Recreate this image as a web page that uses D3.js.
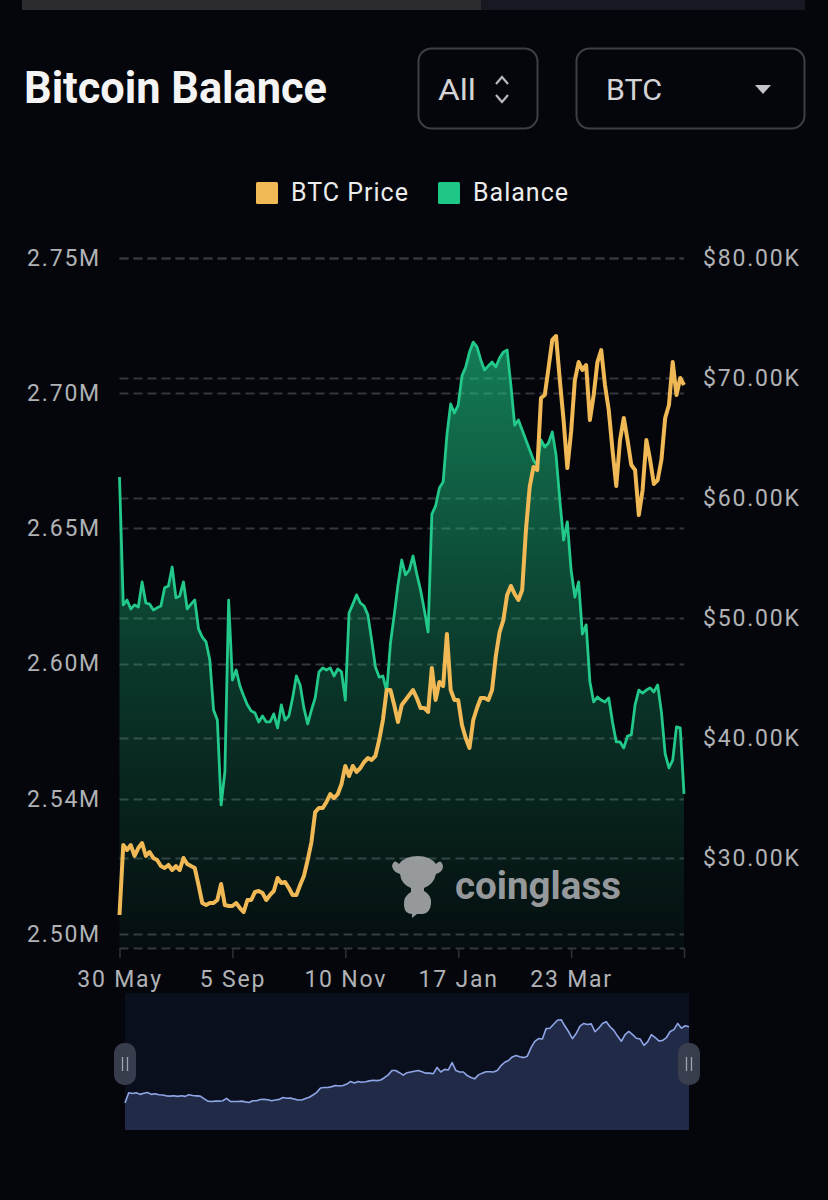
<!DOCTYPE html>
<html>
<head>
<meta charset="utf-8">
<script src="https://cdn.jsdelivr.net/npm/d3@7/dist/d3.min.js"></script>
<style>
  html, body { margin: 0; padding: 0; background: #04060b; }
  svg { display: block; }
  text { font-family: Roboto, "Noto Sans", sans-serif; }
</style>
</head>
<body>
<svg id="chart" width="828" height="1200"></svg>
<script>
// Exchange bitcoin balance (million BTC), one value per category step
const balance = [
  2.6690, 2.6217, 2.6235, 2.6202, 2.6217, 2.6209, 2.6302, 2.6224, 2.6220, 2.6198,
  2.6206, 2.6213, 2.6280, 2.6287, 2.6357, 2.6243, 2.6250, 2.6302, 2.6202, 2.6220,
  2.6235, 2.6128, 2.6098, 2.6080, 2.6013, 2.5828, 2.5791, 2.5477, 2.5599, 2.6235,
  2.5939, 2.5976, 2.5917, 2.5880, 2.5847, 2.5825, 2.5817, 2.5784, 2.5806, 2.5784,
  2.5784, 2.5814, 2.5762, 2.5847, 2.5791, 2.5806, 2.5873, 2.5954, 2.5921, 2.5836,
  2.5777, 2.5828, 2.5873, 2.5969, 2.5984, 2.5976, 2.5984, 2.5954, 2.5980, 2.5969,
  2.5865, 2.6187, 2.6220, 2.6254, 2.6224, 2.6213, 2.6180, 2.6087, 2.5987, 2.5950,
  2.5954, 2.5895, 2.6076, 2.6180, 2.6291, 2.6383, 2.6328, 2.6346, 2.6398, 2.6331,
  2.6272, 2.6198, 2.6117, 2.6553, 2.6583, 2.6649, 2.6672, 2.6845, 2.6960, 2.6927,
  2.6956, 2.7064, 2.7097, 2.7152, 2.7189, 2.7171, 2.7123, 2.7086, 2.7101, 2.7115,
  2.7097, 2.7130, 2.7152, 2.7160, 2.7030, 2.6882, 2.6901, 2.6864, 2.6827, 2.6790,
  2.6753, 2.6731, 2.6827, 2.6801, 2.6816, 2.6857, 2.6771, 2.6605, 2.6457, 2.6524,
  2.6346, 2.6246, 2.6302, 2.6109, 2.6143, 2.5932, 2.5858, 2.5876, 2.5865, 2.5858,
  2.5873, 2.5784, 2.5710, 2.5710, 2.5688, 2.5732, 2.5736, 2.5847, 2.5902, 2.5891,
  2.5902, 2.5910, 2.5895, 2.5921, 2.5821, 2.5666, 2.5614, 2.5643, 2.5766, 2.5762,
  2.5518
];

// BTC price (thousand USD) for the same steps
const price = [
  25.25, 31.08, 30.67, 31.08, 30.17, 30.83, 31.25, 30.17, 30.50, 30.00,
  29.83, 29.33, 29.17, 29.42, 29.00, 29.33, 29.00, 30.00, 29.50, 29.33,
  29.17, 27.75, 26.25, 26.08, 26.25, 26.25, 26.50, 27.83, 26.08, 26.00,
  26.00, 26.25, 25.83, 25.50, 26.50, 26.50, 27.17, 27.25, 27.08, 26.50,
  26.92, 27.25, 28.33, 27.92, 28.00, 27.50, 26.92, 26.92, 27.75, 28.50,
  29.83, 31.33, 33.83, 34.17, 34.17, 34.67, 35.33, 35.00, 35.33, 36.17,
  37.67, 36.83, 37.67, 37.17, 37.50, 38.00, 38.33, 38.17, 38.50, 39.83,
  41.50, 44.00, 44.00, 42.75, 41.33, 42.75, 43.17, 43.58, 44.00, 43.33,
  42.50, 42.50, 42.17, 45.83, 43.17, 44.67, 44.33, 48.67, 44.00, 43.17,
  43.17, 41.08, 40.00, 39.17, 41.50, 42.50, 43.33, 43.33, 43.17, 44.00,
  46.83, 48.83, 49.83, 51.92, 52.67, 52.00, 51.50, 52.33, 57.33, 60.92,
  62.58, 62.33, 68.33, 68.58, 70.83, 73.17, 73.50, 69.83, 66.50, 62.50,
  65.50, 69.83, 71.33, 70.67, 71.08, 66.50, 68.58, 71.33, 72.33, 69.42,
  67.33, 64.00, 61.00, 64.83, 66.67, 64.83, 62.75, 62.33, 58.58, 60.67,
  64.83, 63.17, 61.17, 61.50, 63.17, 66.67, 67.75, 71.33, 68.58, 70.00,
  69.42
];

// Category-axis labels, one every labelStep steps
const dateLabels = ["30 May", "5 Sep", "10 Nov", "17 Jan", "23 Mar"];
const labelStep = 30;

// Left axis ticks (million BTC) and their printed text
const balanceTicks = [2.50, 2.55, 2.60, 2.65, 2.70, 2.75];
const balanceTickText = ["2.50M", "2.54M", "2.60M", "2.65M", "2.70M", "2.75M"];

// Right axis ticks (thousand USD)
const priceTicks = [30, 40, 50, 60, 70, 80];

const legendItems = ["BTC Price", "Balance"];

const COLORS = {
  bg: "#04060b",
  price: "#f0b955",
  balance: "#22c98a",
  grid: "#34373d",
  axisText: "#b0b2b6",
  text: "#ececec"
};

const svg = d3.select("#chart");

svg.append("rect").attr("width", 828).attr("height", 1200).attr("fill", COLORS.bg);

// Top tab strip
svg.append("rect").attr("x", 22).attr("y", 0).attr("width", 459).attr("height", 10).attr("fill", "#2c2c2f");
svg.append("rect").attr("x", 481).attr("y", 0).attr("width", 324).attr("height", 10).attr("fill", "#161922");

// Header
svg.append("text")
  .attr("x", 24).attr("y", 103)
  .attr("font-size", 45).attr("font-weight", 700)
  .attr("fill", "#f4f4f4")
  .attr("textLength", 303).attr("lengthAdjust", "spacingAndGlyphs")
  .text("Bitcoin Balance");

function selectBox(x, w) {
  svg.append("rect")
    .attr("x", x).attr("y", 48.5).attr("width", w).attr("height", 80)
    .attr("rx", 13)
    .attr("fill", "none").attr("stroke", "#3c3f46").attr("stroke-width", 2);
}
selectBox(418.5, 119);
selectBox(576.5, 228);

svg.append("text").attr("x", 438).attr("y", 100)
  .attr("font-size", 30).attr("fill", "#d4d4d6")
  .attr("textLength", 38).attr("lengthAdjust", "spacingAndGlyphs")
  .text("All");
svg.append("path").attr("d", "M496,84 L502,77 L508,84").attr("fill", "none")
  .attr("stroke", "#b8b8bc").attr("stroke-width", 2.2);
svg.append("path").attr("d", "M496,95 L502,102 L508,95").attr("fill", "none")
  .attr("stroke", "#b8b8bc").attr("stroke-width", 2.2);

svg.append("text").attr("x", 606).attr("y", 100)
  .attr("font-size", 30).attr("fill", "#d4d4d6")
  .attr("textLength", 56).attr("lengthAdjust", "spacingAndGlyphs")
  .text("BTC");
svg.append("path").attr("d", "M755,85 L771,85 L763,94 Z").attr("fill", "#c4c4c8");

// Legend
const legendX = [256, 438];
legendItems.forEach((name, i) => {
  svg.append("rect").attr("x", legendX[i]).attr("y", 182)
    .attr("width", 22).attr("height", 22).attr("rx", 1.5)
    .attr("fill", i === 0 ? COLORS.price : "#1ec785");
  svg.append("text").attr("x", legendX[i] + 35).attr("y", 201)
    .attr("font-size", 25).attr("letter-spacing", 1).attr("fill", COLORS.text)
    .text(name);
});

// Plot geometry
const plot = { left: 119.5, right: 684, top: 258, bottom: 948 };

const x = d3.scaleLinear().domain([0, balance.length - 1]).range([plot.left, plot.right]);
const yBal = d3.scaleLinear().domain([2.4948, 2.75]).range([plot.bottom, plot.top]);
const yPrice = d3.scaleLinear().domain([22.5, 80]).range([plot.bottom, plot.top]);

// Grid lines for both axes
const gridG = svg.append("g");
function gridLines(values, scale) {
  gridG.selectAll(null).data(values).enter().append("line")
    .attr("x1", plot.left).attr("x2", plot.right)
    .attr("y1", d => Math.round(scale(d)) + 0.5).attr("y2", d => Math.round(scale(d)) + 0.5)
    .attr("stroke", COLORS.grid).attr("stroke-width", 2)
    .attr("stroke-dasharray", "9,5");
}
gridLines(balanceTicks, yBal);
gridLines(priceTicks, yPrice);
gridG.append("line")
  .attr("x1", plot.left).attr("x2", plot.right)
  .attr("y1", plot.bottom + 0.5).attr("y2", plot.bottom + 0.5)
  .attr("stroke", COLORS.grid).attr("stroke-width", 2)
  .attr("stroke-dasharray", "9,5");

// Balance area with vertical gradient
const defs = svg.append("defs");
const grad = defs.append("linearGradient").attr("id", "balFill")
  .attr("gradientUnits", "userSpaceOnUse")
  .attr("x1", 0).attr("x2", 0).attr("y1", plot.top + 80).attr("y2", plot.bottom);
grad.append("stop").attr("offset", "0%").attr("stop-color", "#1ec785").attr("stop-opacity", 0.62);
grad.append("stop").attr("offset", "55%").attr("stop-color", "#1ec785").attr("stop-opacity", 0.25);
grad.append("stop").attr("offset", "100%").attr("stop-color", "#1ec785").attr("stop-opacity", 0.04);

const area = d3.area()
  .x((d, i) => x(i))
  .y0(plot.bottom)
  .y1(d => yBal(d));
svg.append("path").datum(balance).attr("d", area).attr("fill", "url(#balFill)");

// Watermark
const wm = svg.append("g").attr("fill", "#a6a8ab").attr("opacity", 0.9);
wm.append("path").attr("d",
  "M399,864 Q394,858 392,866 Q393,872 400,874 Q401,884 411,888 L411,892 " +
  "Q403,896 404,906 Q405,914 412,914 L412,918 L417,914 L423,914 Q430,913 431,904 " +
  "Q432,895 424,891 L424,888 Q434,884 436,874 Q443,872 443,866 Q441,858 436,864 " +
  "Q430,856 418,856 Q405,856 399,864 Z");
wm.append("text").attr("x", 455).attr("y", 899)
  .attr("font-size", 38).attr("font-weight", 700)
  .attr("textLength", 166).attr("lengthAdjust", "spacingAndGlyphs")
  .text("coinglass");

const lineBal = d3.line().x((d, i) => x(i)).y(d => yBal(d));
svg.append("path").datum(balance).attr("d", lineBal)
  .attr("fill", "none").attr("stroke", COLORS.balance)
  .attr("stroke-width", 2.8).attr("stroke-linejoin", "round");

const linePrice = d3.line().x((d, i) => x(i)).y(d => yPrice(d));
svg.append("path").datum(price).attr("d", linePrice)
  .attr("fill", "none").attr("stroke", COLORS.price)
  .attr("stroke-width", 4).attr("stroke-linejoin", "round");

function styleAxisText(g) {
  g.selectAll("text").attr("font-size", 23).attr("letter-spacing", 1.8)
    .attr("fill", COLORS.axisText).attr("font-family", "Roboto, sans-serif");
}

// Left axis (balance)
const leftAxis = d3.axisLeft(yBal).tickValues(balanceTicks)
  .tickFormat((d, i) => balanceTickText[i]).tickSize(0).tickPadding(0);
const gl = svg.append("g").attr("transform", "translate(101,0)").call(leftAxis);
gl.select(".domain").remove();
styleAxisText(gl);

// Right axis (price)
const rightAxis = d3.axisRight(yPrice).tickValues(priceTicks)
  .tickFormat(d => "$" + d3.format(".2f")(d) + "K").tickSize(0).tickPadding(0);
const gr = svg.append("g").attr("transform", "translate(703,0)").call(rightAxis);
gr.select(".domain").remove();
styleAxisText(gr);

// Bottom category axis
const tickIdx = d3.range(0, balance.length, labelStep);
const bottomAxis = d3.axisBottom(x).tickValues(tickIdx)
  .tickFormat((d, i) => dateLabels[i] || "").tickSize(10).tickPadding(13);
const gb = svg.append("g").attr("transform", `translate(0,${plot.bottom})`).call(bottomAxis);
gb.select(".domain").remove();
gb.selectAll(".tick line").attr("stroke", "#2e3136").attr("stroke-width", 1.5);
styleAxisText(gb);

// Range slider with overview of the price series
const slider = { left: 125, right: 689, top: 993, bottom: 1130 };
svg.append("rect").attr("x", slider.left).attr("y", slider.top)
  .attr("width", slider.right - slider.left).attr("height", slider.bottom - slider.top)
  .attr("fill", "#0a0f1d");
const xs = d3.scaleLinear().domain([0, price.length - 1]).range([slider.left, slider.right]);
const ys = d3.scaleLinear().domain([9.5, 89]).range([slider.bottom, slider.top]);
svg.append("path").datum(price)
  .attr("d", d3.area().x((d, i) => xs(i)).y0(slider.bottom).y1(d => ys(d)))
  .attr("fill", "#212b47");
svg.append("path").datum(price)
  .attr("d", d3.line().x((d, i) => xs(i)).y(d => ys(d)))
  .attr("fill", "none").attr("stroke", "#8fa6e6").attr("stroke-width", 1.6)
  .attr("stroke-linejoin", "round");

[slider.left, slider.right].forEach(hx => {
  svg.append("rect").attr("x", hx - 11).attr("y", 1043).attr("width", 22).attr("height", 42)
    .attr("rx", 10).attr("fill", "#3b4050").attr("opacity", 0.95);
  [-2.5, 2.5].forEach(dx => {
    svg.append("line").attr("x1", hx + dx).attr("x2", hx + dx)
      .attr("y1", 1057).attr("y2", 1071)
      .attr("stroke", "#9ea3b0").attr("stroke-width", 1.3);
  });
});
</script>
</body>
</html>
